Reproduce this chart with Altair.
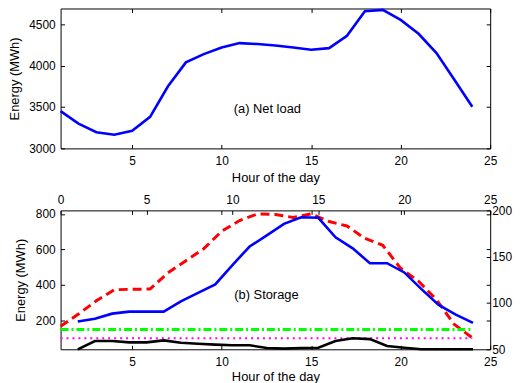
import altair as alt
import pandas as pd

hours = list(range(1, 25))
net_load = [3450, 3300, 3196, 3165, 3213, 3381, 3750, 4039, 4139, 4219, 4272, 4260,
            4243, 4219, 4191, 4211, 4360, 4657, 4673, 4552, 4384, 4152, 3830, 3502]
storage_red = [166, 235, 310, 372, 375, 376, 468, 536, 604, 702, 763, 800,
               797, 780, 800, 757, 732, 662, 623, 493, 420, 316, 176, 101]
storage_green = [148, 148, 148, 148, 148, 148, 148, 148, 148, 148, 148, 148,
                 148, 148, 148, 148, 148, 148, 148, 148, 148, 148, 148, 148]
storage_magenta = [98, 98, 98, 98, 98, 98, 98, 98, 98, 98, 98, 98,
                   98, 98, 98, 98, 98, 98, 98, 98, 98, 98, 98, 98]
storage_blue = [80, 83, 88.5, 90.7, 90.7, 90.7, 101.7, 111, 120, 141, 161, 173,
                185.5, 192.5, 192, 171, 159, 143, 143, 133, 115, 98, 87.5, 78.5]
storage_black = [50, 58.9, 59, 57.5, 57.5, 59.6, 57, 56, 55, 54.3, 54.3, 51.4,
                 50.7, 51.4, 51.7, 59, 62, 61, 53.5, 51.7, 50, 50, 50, 50]

x_ticks = [5, 10, 15, 20, 25]
x_ticks_top = [0, 5, 10, 15, 20, 25]
y_ticks_load = [3000, 3500, 4000, 4500]
y_ticks_left = [200, 400, 600, 800]
y_ticks_right = [50, 100, 150, 200]

label_a = ["(a) Net load"]
label_a_pos = [12.55, 3480]
label_b = ["(b) Storage"]
label_b_pos = [12.5, 345]

FONT = "Liberation Sans"
W, H = 433, 141

df = pd.DataFrame({
    "hour": hours, "load": net_load, "red": storage_red, "green": storage_green,
    "magenta": storage_magenta, "blue": storage_blue, "black": storage_black,
})
lab_a = pd.DataFrame({"x": [label_a_pos[0]], "y": [label_a_pos[1]], "t": label_a})
lab_b = pd.DataFrame({"x": [label_b_pos[0]], "y": [label_b_pos[1]], "t": label_b})


def ax(orient, values, labels=True, title=None, label_pad=5, title_pad=5):
    kw = dict(orient=orient, values=values, domain=False, grid=False, ticks=True,
              tickSize=4, offset=-4, tickColor="black", tickWidth=1, format="d",
              labels=labels, labelColor="black", labelFont=FONT, labelFontSize=12,
              labelFlush=False, labelOverlap=False, labelPadding=label_pad,
              minExtent=0)
    if title:
        kw.update(title=title, titleFont=FONT, titleFontSize=13, titleFontWeight="normal",
                  titleColor="black", titlePadding=title_pad)
    else:
        kw["title"] = None
    return alt.Axis(**kw)


def sc(lo, hi):
    return alt.Scale(domain=[lo, hi], nice=False, zero=False)


# ---- top panel (every layer has its own scale with the same domain) ----
XA, YA = (1, 25), (3000, 4690)

line_a = alt.Chart(df).mark_line(color="#0000ff", strokeWidth=2.6).encode(
    x=alt.X("hour:Q", scale=sc(*XA), axis=ax("bottom", x_ticks, title="Hour of the day", label_pad=7, title_pad=5)),
    y=alt.Y("load:Q", scale=sc(*YA), axis=ax("left", y_ticks_load, title="Energy (MWh)", label_pad=5.5, title_pad=7.3)),
)
mirror_a = alt.Chart(df).mark_line(opacity=0).encode(
    x=alt.X("hour:Q", scale=sc(*XA), axis=ax("top", x_ticks, labels=False)),
    y=alt.Y("load:Q", scale=sc(*YA), axis=ax("right", y_ticks_load, labels=False)),
)
text_a = alt.Chart(lab_a).mark_text(font=FONT, fontSize=13, color="black").encode(
    x=alt.X("x:Q", scale=sc(*XA), axis=None),
    y=alt.Y("y:Q", scale=sc(*YA), axis=None),
    text="t:N",
)
top = alt.layer(line_a, mirror_a, text_a).resolve_scale(
    x="independent", y="independent").properties(width=W, height=H)

# ---- bottom panel ----
XB, YB = (1, 25), (36, 820)
XC, YC = (0, 25), (50, 200)

red_l = alt.Chart(df).mark_line(color="#ff0000", strokeWidth=3, strokeDash=[9, 5]).encode(
    x=alt.X("hour:Q", scale=sc(*XB), axis=ax("bottom", x_ticks, title="Hour of the day", label_pad=7, title_pad=3)),
    y=alt.Y("red:Q", scale=sc(*YB), axis=ax("left", y_ticks_left, title="Energy (MWh)", label_pad=5.5, title_pad=8.3)),
)
green_l = alt.Chart(df).mark_line(color="#00ff00", strokeWidth=3, strokeDash=[8, 3, 2, 3]).encode(
    x=alt.X("hour:Q", scale=sc(*XB), axis=None),
    y=alt.Y("green:Q", scale=sc(*YB), axis=None),
)
mag_l = alt.Chart(df).mark_line(color="#ff00ff", strokeWidth=2, strokeDash=[2, 4]).encode(
    x=alt.X("hour:Q", scale=sc(*XB), axis=None),
    y=alt.Y("magenta:Q", scale=sc(*YB), axis=None),
)
mirror_b = alt.Chart(df).mark_line(opacity=0).encode(
    x=alt.X("hour:Q", scale=sc(*XB), axis=ax("top", x_ticks, labels=False)),
    y=alt.Y("red:Q", scale=sc(*YB), axis=ax("right", y_ticks_left, labels=False)),
)
text_b = alt.Chart(lab_b).mark_text(font=FONT, fontSize=13, color="black").encode(
    x=alt.X("x:Q", scale=sc(*XB), axis=None),
    y=alt.Y("y:Q", scale=sc(*YB), axis=None),
    text="t:N",
)
blue_l = alt.Chart(df).mark_line(color="#0000ff", strokeWidth=2.6).encode(
    x=alt.X("hour:Q", scale=sc(*XC), axis=ax("top", x_ticks_top, label_pad=4)),
    y=alt.Y("blue:Q", scale=sc(*YC), axis=ax("right", y_ticks_right, label_pad=1.5)),
)
black_l = alt.Chart(df).mark_line(color="#000000", strokeWidth=2.6).encode(
    x=alt.X("hour:Q", scale=sc(*XC), axis=None),
    y=alt.Y("black:Q", scale=sc(*YC), axis=None),
)

bottom = alt.layer(red_l, green_l, mag_l, mirror_b, text_b, blue_l, black_l).resolve_scale(
    x="independent", y="independent").properties(width=W, height=H - 1)

chart = alt.vconcat(top, bottom, spacing=7.5).configure_view(
    stroke="black", strokeWidth=1
).properties(
    padding={"left": 0, "top": -6, "right": 0, "bottom": 0},
    background="white",
)

chart.save("out.html", embed_options={"renderer": "svg", "actions": False})
